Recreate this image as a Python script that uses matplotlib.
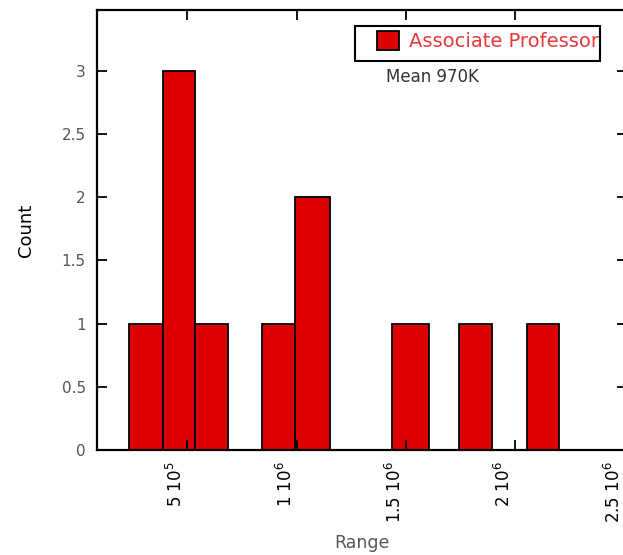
import matplotlib
matplotlib.use("Agg")
import matplotlib.pyplot as plt
from matplotlib.patches import Rectangle
import matplotlib.transforms as mtransforms

# ---- data (salary ranges, counts) ----
bin_left = [233e3, 390e3, 538e3, 842e3, 992e3, 1438e3, 1743e3, 2051e3]
bin_right = [390e3, 538e3, 687e3, 992e3, 1152e3, 1604e3, 1895e3, 2200e3]
counts = [1, 3, 1, 1, 2, 1, 1, 1]
series_name = "Associate Professor"
mean_label = "Mean 970K"
x_ticks = [5e5, 1e6, 1.5e6, 2e6, 2.5e6]
x_tick_labels = [r"$\mathregular{5\ 10^{5}}$", r"$\mathregular{1\ 10^{6}}$",
                 r"$\mathregular{1.5\ 10^{6}}$", r"$\mathregular{2\ 10^{6}}$",
                 r"$\mathregular{2.5\ 10^{6}}$"]
y_ticks = [0, 0.5, 1, 1.5, 2, 2.5, 3]
y_tick_labels = ["0", "0.5", "1", "1.5", "2", "2.5", "3"]

plt.rcParams['font.family'] = ['DejaVu Sans']
plt.rcParams['mathtext.fontset'] = 'custom'
plt.rcParams['mathtext.rm'] = 'DejaVu Sans'

W, H = 623, 555
AX_L, AX_R, AX_T, AX_B = 97, 627, 10, 450
fig = plt.figure(figsize=(W / 100, H / 100), dpi=100)
ax = fig.add_axes([AX_L / W, (H - AX_B) / H, (AX_R - AX_L) / W, (AX_B - AX_T) / H])
aw, ah = AX_R - AX_L, AX_B - AX_T

red = '#dc0000'
widths = [r - l for l, r in zip(bin_left, bin_right)]
ax.bar(bin_left, counts, width=widths, align='edge', color=red,
       edgecolor='black', linewidth=1.3, label=series_name, zorder=1)

ax.set_xlim(88000, 2.51e6)
ax.set_ylim(0, 3.48)

ax.set_xticks(x_ticks)
ax.set_xticklabels(x_tick_labels, rotation=90, fontsize=12, color='black')
ax.set_yticks(y_ticks)
ax.set_yticklabels(y_tick_labels, fontsize=11, color='#555555')
ax.tick_params(axis='both', which='major', direction='in', length=7,
               width=1.3, top=True, right=True)
ax.tick_params(axis='x', pad=8)
ax.tick_params(axis='y', pad=8)
offset = mtransforms.ScaledTranslation(-11 / 100, 0, fig.dpi_scale_trans)
for lbl in ax.get_xticklabels():
    lbl.set_transform(lbl.get_transform() + offset)

for s in ax.spines.values():
    s.set_linewidth(1.6)
    s.set_color('black')

ax.set_xlabel("Range", fontsize=12.5, color='#555555', labelpad=8)
ax.set_ylabel("Count", fontsize=13, color='black', labelpad=19)

# legend with manual frame
fr = Rectangle(((355 - AX_L) / aw, (AX_B - 61) / ah), (600 - 355) / aw,
               35 / ah, transform=ax.transAxes, fill=True, facecolor='white',
               edgecolor='black', linewidth=1.5, zorder=3)
ax.add_patch(fr)
leg = ax.legend(loc='upper left',
                bbox_to_anchor=((377 - AX_L) / aw, (AX_B - 31) / ah),
                borderpad=0, borderaxespad=0, frameon=False,
                handlelength=1.12, handleheight=1.15, handletextpad=0.55,
                fontsize=14, labelcolor='#e8383a')
leg.set_zorder(4)

ax.text((386 - AX_L) / aw, (AX_B - 77) / ah, mean_label, transform=ax.transAxes,
        ha='left', va='center', fontsize=12, color='#333333')

fig.savefig("out.png", dpi=100)
